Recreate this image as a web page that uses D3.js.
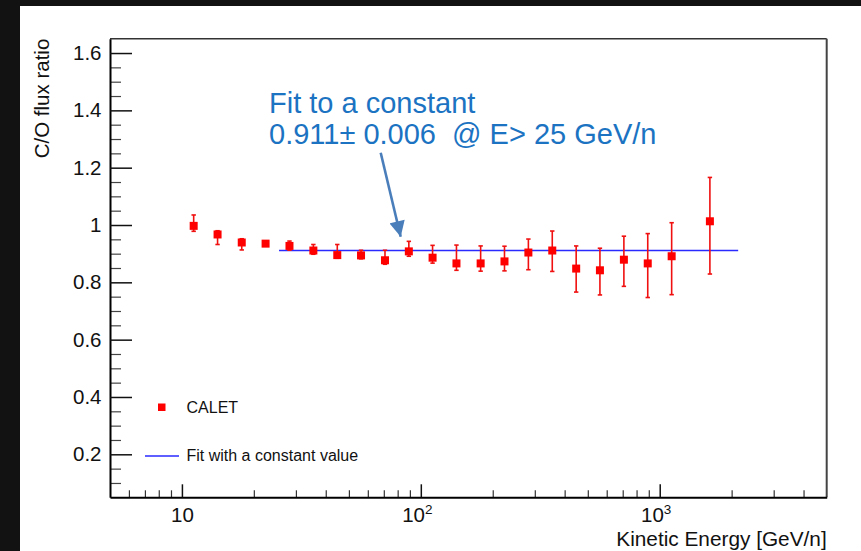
<!DOCTYPE html>
<html>
<head>
<meta charset="utf-8">
<script src="https://cdn.jsdelivr.net/npm/d3@7"></script>
<style>
  html, body { margin: 0; padding: 0; background: #121212; }
  svg { display: block; }
  text { font-family: "Liberation Sans", Arial, Helvetica, sans-serif; }
</style>
</head>
<body>
<script>
// C/O flux ratio measured by CALET vs kinetic energy per nucleon
const energy = [11.2, 14.1, 17.8, 22.4, 28.2, 35.5, 44.7, 56.2, 70.8, 89.1, 112,
                141, 178, 224, 282, 355, 447, 562, 708, 891, 1122, 1622];
const ratio  = [0.997, 0.967, 0.939, 0.935, 0.927, 0.911, 0.895, 0.894, 0.877, 0.908, 0.886,
                0.866, 0.866, 0.873, 0.904, 0.911, 0.848, 0.842, 0.879, 0.866, 0.891, 1.013];
const errUp  = [0.038, 0.013, 0.013, 0.008, 0.017, 0.021, 0.037, 0.018, 0.035, 0.035, 0.043,
                0.064, 0.061, 0.053, 0.047, 0.068, 0.079, 0.077, 0.082, 0.104, 0.117, 0.153];
const errDown = [0.019, 0.035, 0.026, 0.008, 0.015, 0.013, 0.011, 0.012, 0.014, 0.017, 0.019,
                 0.024, 0.027, 0.033, 0.060, 0.073, 0.082, 0.086, 0.093, 0.119, 0.134, 0.184];

// constant fit above 25 GeV/n
const fitValue = 0.911;
const fitRange = [25.5, 2130];

const yTicks = [0.2, 0.4, 0.6, 0.8, 1, 1.2, 1.4, 1.6];
const yLabels = ["0.2", "0.4", "0.6", "0.8", "1", "1.2", "1.4", "1.6"];
const xTicks = [10, 100, 1000];
const xMinorTicks = [6, 7, 8, 9, 20, 30, 40, 50, 60, 70, 80, 90,
                     200, 300, 400, 500, 600, 700, 800, 900, 2000, 3000, 4000];

const W = 861, H = 551;
const svg = d3.select("body").append("svg").attr("width", W).attr("height", H);

// white canvas pad
svg.append("rect").attr("x", 20).attr("y", 6).attr("width", W - 20).attr("height", H - 6).attr("fill", "#fff");

const L = 110, R = 826.7, T = 38.7, B = 497.3;
const x = d3.scaleLog().domain([5, 5000]).range([L, R]);
const y = d3.scaleLinear().domain([0.05, 1.65]).range([B, T]);

// frame top/right
svg.append("line").attr("x1", L).attr("x2", R).attr("y1", T).attr("y2", T)
  .attr("stroke", "#333").attr("stroke-width", 1.5);
svg.append("line").attr("x1", R).attr("x2", R).attr("y1", T).attr("y2", B)
  .attr("stroke", "#444").attr("stroke-width", 2);

// y axis: minor ticks
const yMinor = d3.range(0.1, 1.65, 0.05).map(v => +v.toFixed(2)).filter(v => !yTicks.some(t => Math.abs(t - v) < 1e-6));
svg.append("g").attr("transform", `translate(${L},0)`)
  .call(d3.axisLeft(y).tickValues(yMinor).tickSizeInner(-11).tickSizeOuter(0).tickFormat(""))
  .call(g => g.select(".domain").remove())
  .call(g => g.selectAll("line").attr("stroke", "#444").attr("stroke-width", 1.2));

// y axis: major ticks + labels
svg.append("g").attr("transform", `translate(${L},0)`)
  .call(d3.axisLeft(y).tickValues(yTicks).tickSizeInner(-22).tickSizeOuter(0).tickPadding(8.5)
        .tickFormat((d, i) => yLabels[i]))
  .call(g => g.select(".domain").attr("stroke", "#000").attr("stroke-width", 2))
  .call(g => g.selectAll("line").attr("stroke", "#111").attr("stroke-width", 1.5))
  .call(g => g.selectAll("text").attr("font-size", 20.5).attr("fill", "#111")
        .attr("font-family", "'Liberation Sans', Arial, Helvetica, sans-serif"));

// x axis: minor ticks
svg.append("g").attr("transform", `translate(0,${B})`)
  .call(d3.axisBottom(x).tickValues(xMinorTicks).tickSizeInner(-7).tickSizeOuter(0).tickFormat(""))
  .call(g => g.select(".domain").remove())
  .call(g => g.selectAll("line").attr("stroke", "#333").attr("stroke-width", 1.2));

// x axis: decades
const xAxisG = svg.append("g").attr("transform", `translate(0,${B})`)
  .call(d3.axisBottom(x).tickValues(xTicks).tickSizeInner(-13).tickSizeOuter(0).tickPadding(10)
        .tickFormat(d => "10"))
  .call(g => g.select(".domain").attr("stroke", "#000").attr("stroke-width", 2))
  .call(g => g.selectAll("line").attr("stroke", "#111").attr("stroke-width", 1.5))
  .call(g => g.selectAll("text").attr("font-size", 20.5).attr("fill", "#111")
        .attr("font-family", "'Liberation Sans', Arial, Helvetica, sans-serif"));
xAxisG.selectAll(".tick text").each(function(d) {
  const exp = Math.round(Math.log10(d));
  if (exp > 1) {
    d3.select(this).attr("text-anchor", "middle").attr("dx", -4)
      .append("tspan").attr("dy", -8).attr("font-size", 13.5).text(exp);
  }
});

// axis titles
svg.append("text").attr("x", R).attr("y", 546).attr("text-anchor", "end")
  .attr("font-size", 20.8).attr("fill", "#111").text("Kinetic Energy [GeV/n]");
svg.append("text").attr("transform", `translate(48.5,${T}) rotate(-90)`).attr("text-anchor", "end")
  .attr("font-size", 20.5).attr("fill", "#111").text("C/O flux ratio");

// fit line
svg.append("line")
  .attr("x1", x(fitRange[0])).attr("x2", x(fitRange[1]))
  .attr("y1", y(fitValue)).attr("y2", y(fitValue))
  .attr("stroke", "#2a2aff").attr("stroke-width", 1.6);

// data points with error bars
const pts = energy.map((e, i) => ({ e, v: ratio[i], up: errUp[i], dn: errDown[i] }));
const pg = svg.append("g");
const cap = 2.2;
pts.forEach(p => {
  const cx = x(p.e);
  const yt = y(p.v + p.up), yb = y(p.v - p.dn);
  pg.append("line").attr("x1", cx).attr("x2", cx).attr("y1", yt).attr("y2", yb)
    .attr("stroke", "#f01010").attr("stroke-width", 1.6);
  pg.append("line").attr("x1", cx - cap).attr("x2", cx + cap).attr("y1", yt).attr("y2", yt)
    .attr("stroke", "#f01010").attr("stroke-width", 1.6);
  pg.append("line").attr("x1", cx - cap).attr("x2", cx + cap).attr("y1", yb).attr("y2", yb)
    .attr("stroke", "#f01010").attr("stroke-width", 1.6);
});
pg.selectAll("rect.pt").data(pts).join("rect").attr("class", "pt")
  .attr("x", d => x(d.e) - 4).attr("y", d => y(d.v) - 4)
  .attr("width", 8).attr("height", 8).attr("fill", "#ff0000");

// legend
svg.append("rect").attr("x", 158).attr("y", 403.5).attr("width", 7.5).attr("height", 7.5).attr("fill", "#ff0000");
svg.append("text").attr("x", 186.5).attr("y", 413).attr("font-size", 16).attr("fill", "#111").text("CALET");
svg.append("line").attr("x1", 145).attr("x2", 179).attr("y1", 456).attr("y2", 456)
  .attr("stroke", "#2a2aff").attr("stroke-width", 1.6);
svg.append("text").attr("x", 186.5).attr("y", 460.5).attr("font-size", 16).attr("fill", "#111")
  .text("Fit with a constant value");

// annotation
const blue = "#1b73c2";
svg.append("text").attr("x", 269).attr("y", 112.5).attr("font-size", 29).attr("fill", blue)
  .text("Fit to a constant");
svg.append("text").attr("x", 269).attr("y", 144.3).attr("font-size", 29).attr("fill", blue)
  .style("white-space", "pre").text("0.911\u00b1 0.006  @ E> 25 GeV/n");

const arrowCol = "#4a7ebb";
const defs = svg.append("defs");
defs.append("marker").attr("id", "head").attr("viewBox", "0 0 10 10")
  .attr("refX", 10).attr("refY", 5).attr("markerWidth", 6.5).attr("markerHeight", 6)
  .attr("markerUnits", "strokeWidth").attr("orient", "auto")
  .append("path").attr("d", "M0,0 L10,5 L0,10 Z").attr("fill", arrowCol);
svg.append("line").attr("x1", 380.7).attr("y1", 152.7).attr("x2", 400.7).attr("y2", 236.7)
  .attr("stroke", arrowCol).attr("stroke-width", 2.6).attr("marker-end", "url(#head)");
</script>
</body>
</html>
